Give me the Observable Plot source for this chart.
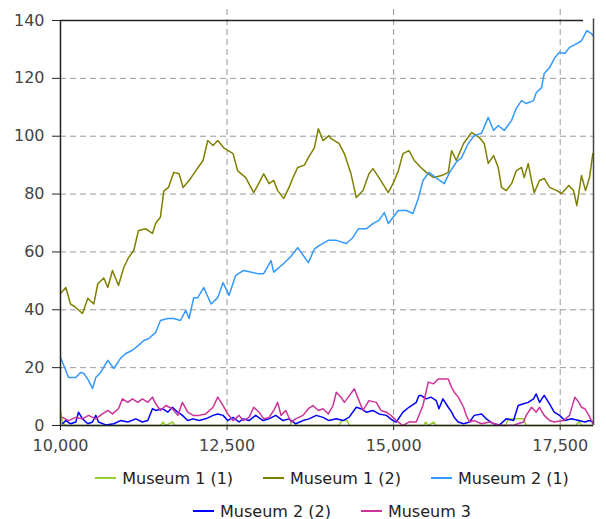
<!DOCTYPE html>
<html>
<head>
<meta charset="utf-8">
<script src="https://cdn.jsdelivr.net/npm/d3@7"></script>
<script src="https://cdn.jsdelivr.net/npm/@observablehq/plot@0.6"></script>
<style>
  html, body { margin: 0; padding: 0; background: #fff; }
  #chart svg { display: block; }
  .legend { width: 606px; font-family: "DejaVu Sans", Verdana, sans-serif; font-size: 16px; color: #222; }
  .row { display: flex; justify-content: center; align-items: center; gap: 30px; padding-left: 58px; box-sizing: border-box; }
  .item { display: flex; align-items: center; white-space: nowrap; }
  .sw { display: inline-block; width: 21px; height: 2px; margin-right: 6px; }
</style>
</head>
<body>
<div id="chart"></div>
<div class="legend" id="legend"></div>
<script>
// ---- data ----
const seriesNames = ["Museum 1 (1)", "Museum 1 (2)", "Museum 2 (1)", "Museum 2 (2)", "Museum 3"];
const seriesColors = ["#99cc33", "#808000", "#3399ff", "#0000ff", "#cc3399"];
const xTicks = [10000, 12500, 15000, 17500];
const yTicks = [0, 20, 40, 60, 80, 100, 120, 140];

const museum1a = [[10000,5],[10030,1],[10080,0],[11500,0],[11540,1.2],[11580,0],[11680,1.2],[11720,0],[13440,0],[13480,1.7],[13540,0],[14180,0],[14220,1.7],[14300,1.7],[14340,0],[15450,0],[15480,1.2],[15520,0],[15600,1.2],[15640,0],[16680,0],[16720,2.3],[16950,2.3],[16990,0],[17740,0],[17780,1.5],[17820,0],[17990,0]];

const museum1b = [[10000,45.6],[10080,47.7],[10150,42],[10230,40.8],[10330,38.7],[10410,44],[10500,42],[10560,49],[10650,51],[10710,47.7],[10780,53.6],[10870,48.4],[10950,54.6],[11020,58],[11100,60.5],[11170,67.4],[11280,68],[11380,66.4],[11430,70],[11500,72],[11550,81],[11620,82.3],[11700,87.5],[11780,87],[11840,82.3],[11930,84.7],[12030,88],[12060,89],[12140,91.6],[12210,98.5],[12290,96.8],[12360,98.5],[12450,96],[12590,94],[12660,88],[12780,85.7],[12900,80.5],[12960,83],[13050,87],[13130,83.6],[13200,84.7],[13260,81.2],[13350,78.5],[13430,82.3],[13490,85.7],[13560,89.2],[13660,90],[13720,92.6],[13810,96],[13870,102.6],[13940,98.5],[14030,100.2],[14060,99.2],[14180,97.5],[14260,94],[14360,87],[14440,78.8],[14540,81.2],[14630,87],[14690,88.8],[14780,85.7],[14920,80.5],[14990,83.6],[15070,88],[15140,94],[15230,95],[15310,91.6],[15410,89.2],[15490,87.5],[15600,85.7],[15720,86.4],[15820,87.5],[15870,95],[15940,91.6],[16050,97.5],[16170,101.3],[16290,99.5],[16360,97.5],[16420,90.6],[16500,93.3],[16570,89.2],[16620,82.3],[16690,81.2],[16770,83.6],[16840,88],[16920,89.2],[16960,85.7],[17020,90.6],[17070,84.7],[17110,80.5],[17190,84.7],[17260,85.4],[17340,82.3],[17450,81.2],[17520,80.2],[17630,83],[17700,81.2],[17750,76],[17820,86.4],[17880,81.2],[17940,85.7],[17990,94]];

const museum2a = [[10000,23.5],[10080,19],[10120,16.6],[10230,16.6],[10300,18.3],[10350,18],[10420,15.6],[10480,12.8],[10530,16.6],[10600,18.3],[10710,22.5],[10800,19.7],[10900,23.2],[10980,24.9],[11080,26],[11170,27.7],[11250,29.4],[11320,30],[11430,32.2],[11500,36.3],[11610,37],[11700,37],[11800,36.3],[11880,39.8],[11930,37],[12000,44.2],[12060,44.2],[12150,47.7],[12260,42],[12360,44.2],[12440,49.4],[12530,45],[12630,51.9],[12750,53.6],[12960,52.5],[13050,52.5],[13160,57],[13200,53],[13350,56],[13460,58.5],[13560,61.5],[13720,56.3],[13810,61],[13880,62.2],[14020,64],[14140,64],[14290,62.9],[14390,65],[14470,68],[14590,68],[14690,69.8],[14780,70.9],[14860,73.6],[14920,69.8],[14990,71.9],[15070,74.3],[15190,74.3],[15290,73.3],[15370,78.5],[15440,84.7],[15530,87.5],[15690,84.7],[15760,83.6],[15840,87.5],[15940,91],[16020,92.6],[16120,97.5],[16210,100.2],[16320,101],[16420,106.5],[16500,102],[16570,103.7],[16660,102],[16770,105.4],[16840,109.6],[16920,112.3],[16990,111.3],[17100,112.3],[17140,115],[17220,116.8],[17260,121.7],[17340,123.7],[17420,127.2],[17490,129],[17570,128.6],[17640,130.7],[17750,132],[17820,133],[17900,136.5],[17970,135.5],[17990,134.8]];

const museum2b = [[10030,0.6],[10080,1.7],[10150,0.6],[10230,1.2],[10270,4.6],[10330,2.3],[10410,0.6],[10480,1.2],[10530,3.5],[10570,1.2],[10680,0.2],[10800,0.6],[10900,1.7],[11010,1.2],[11130,2.3],[11230,1.2],[11310,1.7],[11380,5.8],[11430,5.2],[11530,5.8],[11610,4.6],[11680,6.3],[11760,4.6],[11830,3.5],[11910,1.7],[11990,2.3],[12080,1.7],[12180,2.3],[12290,3.5],[12360,4],[12440,3.5],[12510,1.7],[12590,2.8],[12680,1.2],[12740,2.3],[12830,1.7],[12930,3.5],[13040,1.7],[13130,2.3],[13230,3.5],[13340,1.7],[13430,2.3],[13530,0.6],[13640,1.7],[13730,2.3],[13840,3.5],[13940,2.8],[14030,1.7],[14140,2.3],[14240,1.7],[14330,2.8],[14440,6.3],[14510,5.8],[14590,4.6],[14690,5.2],[14780,4],[14890,3.5],[14990,1.7],[15040,1.2],[15140,4.6],[15230,6.3],[15340,8],[15380,10.4],[15410,10.4],[15490,9.2],[15560,9.8],[15640,8.6],[15680,5.8],[15740,9.2],[15820,6.3],[15870,4.6],[15910,2.8],[15970,1.2],[16050,0.6],[16140,1.2],[16210,3.5],[16320,4],[16390,2.3],[16500,0.6],[16590,0.2],[16690,2.3],[16800,1.7],[16870,6.9],[16950,7.5],[17020,8],[17100,9.2],[17140,10.9],[17190,8],[17260,10.4],[17340,7.5],[17410,4.6],[17490,3.5],[17570,1.7],[17670,2.3],[17780,1.7],[17870,1.2],[17940,1.7],[17990,1.2]];

const museum3 = [[10030,2.8],[10120,1.7],[10230,2.8],[10330,2.3],[10420,3.5],[10530,2.3],[10630,4],[10710,5.2],[10780,4],[10870,5.8],[10930,9.2],[11010,8],[11080,9.2],[11160,8],[11230,9.2],[11310,8],[11380,9.8],[11430,7.5],[11500,5.2],[11580,6.9],[11680,5.8],[11760,3.5],[11830,8],[11910,4.6],[11990,3.5],[12080,3.5],[12180,4],[12290,6.3],[12360,9.8],[12440,6.9],[12510,4],[12590,1.7],[12680,3.5],[12740,1.7],[12830,2.8],[12900,6.3],[12980,4.6],[13050,2.3],[13130,2.8],[13200,5.2],[13260,8],[13310,3.5],[13380,5.2],[13460,1.2],[13530,2.3],[13640,3.5],[13720,5.8],[13790,6.9],[13870,5.2],[13940,5.8],[14020,4],[14090,6.9],[14140,11.5],[14210,9.8],[14260,8],[14320,9.8],[14410,12.7],[14470,9.2],[14540,5.2],[14630,8.6],[14740,8],[14810,5.2],[14890,4.6],[14960,3.5],[15040,1.7],[15140,0],[15230,1.2],[15340,1.2],[15440,6.9],[15520,15],[15600,14.4],[15670,16.1],[15820,16.1],[15870,13.2],[15910,11.5],[15970,9.8],[16050,6.3],[16090,3.5],[16140,1.2],[16210,1.7],[16320,0.6],[16440,1.2],[16570,0.2],[16690,0],[16810,0.2],[16950,1.2],[16990,3.5],[17070,6.3],[17140,4.6],[17190,6.3],[17260,3.5],[17340,1.7],[17410,1.2],[17550,1.7],[17640,3.5],[17720,9.8],[17780,8],[17820,6.3],[17870,5.8],[17930,3.5],[17970,1.7],[17990,0.6]];

const seriesData = [museum1a, museum1b, museum2a, museum2b, museum3];

// ---- chart ----
const gridStyle = { stroke: "#999", strokeOpacity: 1, strokeDasharray: "6,4", strokeWidth: 1 };

const lineMarks = seriesData.map((data, i) =>
  Plot.line(data, { x: d => d[0], y: d => d[1], stroke: seriesColors[i], strokeWidth: 1.5 })
);

const chart = Plot.plot({
  width: 606,
  height: 460,
  marginLeft: 60,
  marginRight: 13,
  marginTop: 20,
  marginBottom: 35,
  x: { domain: [10000, 18000] },
  y: { domain: [0, 140] },
  style: { fontFamily: "'DejaVu Sans', Verdana, sans-serif", fontSize: "16px", color: "#444", background: "#fff" },
  marks: [
    Plot.ruleY(yTicks.filter(t => t > 0 && t < 140), { ...gridStyle }),
    Plot.ruleX(xTicks.filter(t => t > 10000), { y1: 0, y2: 144, ...gridStyle }),
    Plot.axisY({ ticks: yTicks, tickSize: 8, tickPadding: 8, label: null, stroke: "#222" }),
    Plot.axisX({ ticks: xTicks, tickFormat: d3.format(","), tickSize: 5, tickPadding: 9, label: null, stroke: "#222" }),
    ...lineMarks,
    Plot.ruleY([140], { x1: 10000, x2: 17850, stroke: "#222", strokeWidth: 1.5 }),
    Plot.ruleX([18000], { y1: 0, y2: 140.5, stroke: "#444", strokeWidth: 1.5 }),
    Plot.ruleX([10000], { y1: 0, y2: 140, stroke: "#222", strokeWidth: 1.5 }),
    Plot.ruleY([0], { x1: 10000, x2: 18000, stroke: "#222", strokeWidth: 1.5 })
  ]
});
document.getElementById("chart").appendChild(chart);

// ---- legend ----
const legend = document.getElementById("legend");
const rows = [[0, 1, 2], [3, 4]];
const rowHeights = [36, 30];
rows.forEach((idxs, r) => {
  const row = document.createElement("div");
  row.className = "row";
  row.style.height = rowHeights[r] + "px";
  idxs.forEach(i => {
    const item = document.createElement("div");
    item.className = "item";
    const sw = document.createElement("span");
    sw.className = "sw";
    sw.style.background = seriesColors[i];
    const label = document.createElement("span");
    label.textContent = seriesNames[i];
    item.appendChild(sw);
    item.appendChild(label);
    row.appendChild(item);
  });
  legend.appendChild(row);
});
</script>
</body>
</html>
